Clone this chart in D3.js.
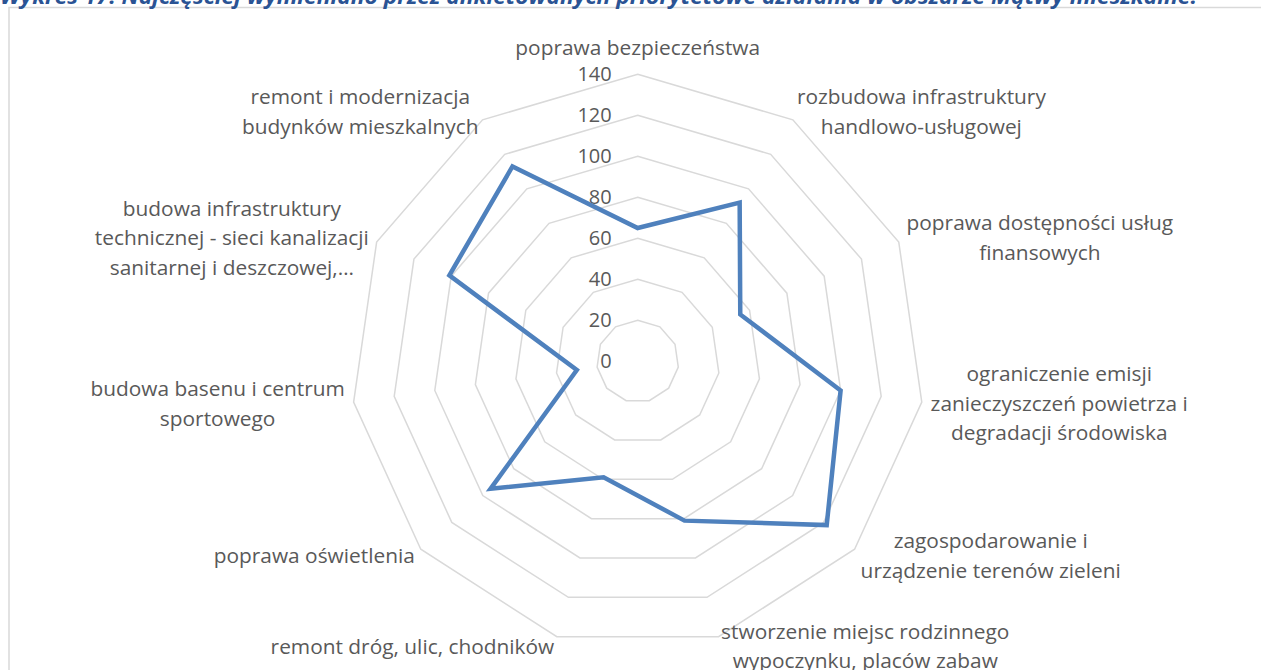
<!DOCTYPE html>
<html><head><meta charset="utf-8">
<script src="https://cdn.jsdelivr.net/npm/d3@7"></script>
<style>body{margin:0;background:#fff;overflow:hidden}svg{display:block}</style>
</head><body>
<svg id="c" width="1261" height="670"></svg>
<script>
const title = "Wykres 17: Najczęściej wymieniano przez ankietowanych priorytetowe działania w obszarze Mątwy mieszkalne.";
const categories = [
  ["poprawa bezpieczeństwa"],
  ["rozbudowa infrastruktury", "handlowo-usługowej"],
  ["poprawa dostępności usług", "finansowych"],
  ["ograniczenie emisji", "zanieczyszczeń powietrza i", "degradacji środowiska"],
  ["zagospodarowanie i", "urządzenie terenów zieleni"],
  ["stworzenie miejsc rodzinnego", "wypoczynku, placów zabaw"],
  ["remont dróg, ulic, chodników"],
  ["poprawa oświetlenia"],
  ["budowa basenu i centrum", "sportowego"],
  ["budowa infrastruktury", "technicznej - sieci kanalizacji", "sanitarnej i deszczowej,…"],
  ["remont i modernizacja", "budynków mieszkalnych"]
];
const values = [65, 92, 55, 100, 122, 81, 59, 95, 30, 101, 113];
const ticks = [0, 20, 40, 60, 80, 100, 120, 140];

const svg = d3.select("#c");
const W = 1261, H = 670;
const cx = 637.7, cy = 361.3;
const font = "'Open Sans', 'DejaVu Sans', sans-serif";
const textColor = "#595959";

// chart border
svg.append("rect").attr("x", 9).attr("y", 7.5).attr("width", W).attr("height", H)
  .attr("fill", "none").attr("stroke", "#d9d9d9").attr("stroke-width", 1.5);

// title (clipped at top)
svg.append("text").attr("x", 0).attr("y", 4)
  .attr("font-family", font).attr("font-size", 21).attr("font-style", "italic").attr("font-weight", "bold")
  .attr("fill", "#2a5394").attr("textLength", 1197).attr("lengthAdjust", "spacingAndGlyphs")
  .text(title);

const r = d3.scaleLinear().domain([0, 140]).range([0, 287]);
const n = categories.length;
const ang = d3.scaleLinear().domain([0, n]).range([0, 2 * Math.PI]);

const g = svg.append("g").attr("transform", `translate(${cx},${cy})`);

// grid rings
const ringLine = t => d3.lineRadial().angle((d, i) => ang(i)).radius(() => r(t)).curve(d3.curveLinearClosed);
g.selectAll("path.ring").data(ticks.slice(1)).join("path").attr("class", "ring")
  .attr("d", t => ringLine(t)(categories))
  .attr("fill", "none").attr("stroke", "#d9d9d9").attr("stroke-width", 1.5);

// font size fit
const probe = svg.append("text").attr("font-family", font).attr("font-size", 20).text(categories[0][0]);
let fs = 20 * 245 / probe.node().getComputedTextLength();
fs = Math.max(17, Math.min(23, fs));
probe.remove();
const lh = 29.5;

// tick labels
g.selectAll("text.tick").data(ticks).join("text").attr("class", "tick")
  .attr("x", -26).attr("y", t => -r(t)).attr("dy", "0.35em")
  .attr("text-anchor", "end").attr("font-family", font).attr("font-size", 20)
  .attr("fill", textColor).text(t => t);

// series
const seriesLine = d3.lineRadial().angle((d, i) => ang(i)).radius(d => r(d)).curve(d3.curveLinearClosed);
g.append("path").attr("d", seriesLine(values))
  .attr("fill", "none").attr("stroke", "#4f81bd").attr("stroke-width", 4.5)
  .attr("stroke-linejoin", "miter");

// category labels
categories.forEach((lines, i) => {
  const a = ang(i), s = Math.sin(a), c = Math.cos(a);
  const vx = r(140) * s, vy = -r(140) * c;
  const t = g.append("text").attr("font-family", font).attr("font-size", fs)
    .attr("fill", textColor).attr("text-anchor", "middle");
  const spans = lines.map(l => t.append("tspan").text(l));
  const bw = d3.max(spans, sp => sp.node().getComputedTextLength());
  const bh = lines.length * lh;
  let bx;
  const padX = 2 + 7 * s * s;
  if (Math.abs(s) < 0.1) bx = vx;
  else if (s > 0) bx = vx + padX + bw / 2;
  else bx = vx - padX - bw / 2;
  let top;
  if (c > 0.95) top = vy - 12 - bh;
  else top = vy - c * 10 - bh / 2;
  spans.forEach((sp, k) => sp.attr("x", bx).attr("y", top + lh * k + lh / 2).attr("dy", "0.35em"));
});
</script>
</body></html>
